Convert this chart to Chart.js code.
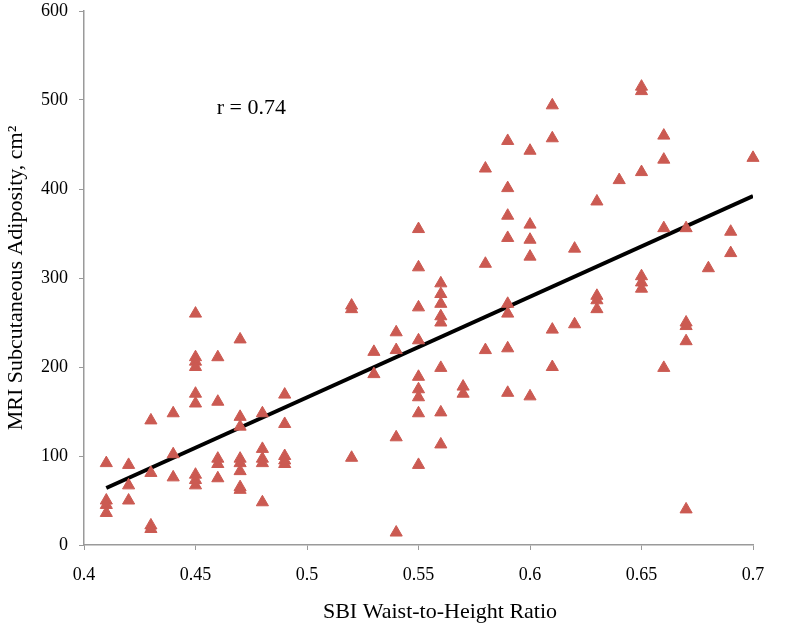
<!DOCTYPE html>
<html>
<head>
<meta charset="utf-8">
<script src="https://cdn.jsdelivr.net/npm/chart.js@4.4.0/dist/chart.umd.min.js"></script>
<style>
    html, body { margin: 0; padding: 0; background: #fff; }
    #wrap { width: 800px; height: 628px; }
</style>
</head>
<body>
<div id="wrap"><canvas id="scatterChart" width="800" height="628"></canvas></div>
<script>
// Waist-to-height ratio groups and the adiposity values read at each one
const ratioGroups = [0.41, 0.42, 0.43, 0.44, 0.45, 0.46, 0.47, 0.48, 0.49,
    0.52, 0.53, 0.54, 0.55, 0.56, 0.57, 0.58, 0.59, 0.60,
    0.61, 0.62, 0.63, 0.64, 0.65, 0.66, 0.67, 0.68, 0.69, 0.70];
const adiposityValues = [
    [92, 50, 45, 36],
    [90, 67, 50],
    [140, 81, 22, 18],
    [148, 102, 76],
    [260, 211, 206, 200, 170, 159, 79, 73, 67],
    [211, 161, 97, 91, 75],
    [231, 144, 133, 97, 92, 83, 65, 62],
    [148, 108, 97, 92, 48],
    [169, 136, 100, 95, 91],
    [269, 265, 98],
    [217, 192],
    [239, 219, 121, 14],
    [355, 312, 267, 230, 189, 175, 166, 148, 90],
    [294, 282, 271, 257, 250, 199, 149, 113],
    [178, 170],
    [423, 316, 219],
    [454, 401, 370, 345, 271, 260, 221, 171],
    [443, 360, 343, 324, 167],
    [494, 457, 242, 200],
    [333, 248],
    [386, 280, 275, 265],
    [410],
    [515, 510, 419, 302, 295, 288],
    [460, 433, 356, 199],
    [356, 250, 246, 229, 40],
    [311],
    [352, 328],
    [435]
];

// Fitted line
const trendX = [0.41, 0.70];
const trendY = [64, 392];

const xTicks = [0.4, 0.45, 0.5, 0.55, 0.6, 0.65, 0.7];
const yTicks = [0, 100, 200, 300, 400, 500, 600];

const rLabel = 'r = 0.74';
const xTitle = 'SBI Waist-to-Height Ratio';
const yTitle = 'MRI Subcutaneous Adiposity, cm²';

document.addEventListener('DOMContentLoaded', function() {
    'use strict';

    const points = [];
    ratioGroups.forEach((r, i) => {
        adiposityValues[i].forEach(v => points.push({ x: r, y: v }));
    });
    const trendPoints = trendX.map((x, i) => ({ x: x, y: trendY[i] }));

    const serif = "'Liberation Serif', 'DejaVu Serif', serif";
    const axisGray = '#9a9a9a';

    // correlation note and the two axis titles (Excel puts the x title a bit right of centre)
    const labels = {
        id: 'labels',
        afterDraw(chart) {
            const ctx = chart.ctx;
            const xs = chart.scales.x, ys = chart.scales.y;
            ctx.save();
            ctx.font = '22px ' + serif;
            ctx.fillStyle = '#000';
            ctx.textBaseline = 'middle';

            ctx.textAlign = 'left';
            ctx.fillText(rLabel, xs.getPixelForValue(0.4595), ys.getPixelForValue(491));

            ctx.textAlign = 'center';
            ctx.fillText(xTitle, 440, 612);

            ctx.translate(16, (chart.chartArea.top + chart.chartArea.bottom) / 2);
            ctx.rotate(-Math.PI / 2);
            ctx.fillText(yTitle, 0, 0);
            ctx.restore();
        }
    };

    new Chart(document.getElementById('scatterChart').getContext('2d'), {
        type: 'scatter',
        data: {
            datasets: [
                {
                    label: 'Subjects',
                    data: points,
                    pointStyle: 'triangle',
                    pointRadius: 7,
                    pointHoverRadius: 7,
                    backgroundColor: '#CB5A52',
                    borderColor: '#CB5A52',
                    borderWidth: 1,
                    clip: false
                },
                {
                    label: 'Fit',
                    type: 'line',
                    data: trendPoints,
                    borderColor: '#000',
                    borderWidth: 4,
                    pointRadius: 0,
                    fill: false
                }
            ]
        },
        options: {
            responsive: false,
            animation: false,
            layout: { padding: { top: 11, right: 47, left: 0, bottom: 0 } },
            plugins: {
                legend: { display: false },
                tooltip: { enabled: false }
            },
            scales: {
                x: {
                    type: 'linear',
                    min: 0.4,
                    max: 0.7,
                    afterBuildTicks: function(scale) {
                        scale.ticks = xTicks.map(v => ({ value: v }));
                    },
                    afterFit: function(scale) {
                        scale.height = 83;
                        scale.paddingLeft = 0;
                        scale.paddingRight = 0;
                    },
                    grid: {
                        drawOnChartArea: false,
                        color: axisGray,
                        tickLength: 5
                    },
                    border: { color: axisGray, width: 1.5 },
                    ticks: {
                        color: '#000',
                        font: { family: serif, size: 18 },
                        padding: 14,
                        maxRotation: 0,
                        callback: function(v) { return String(v); }
                    }
                },
                y: {
                    min: 0,
                    max: 600,
                    afterBuildTicks: function(scale) {
                        scale.ticks = yTicks.map(v => ({ value: v }));
                    },
                    afterFit: function(scale) {
                        scale.width = 84;
                        scale.paddingTop = 0;
                        scale.paddingBottom = 0;
                    },
                    grid: {
                        drawOnChartArea: false,
                        color: axisGray,
                        tickLength: 5
                    },
                    border: { color: axisGray, width: 1.5 },
                    ticks: {
                        color: '#000',
                        font: { family: serif, size: 18 },
                        padding: 11
                    }
                }
            }
        },
        plugins: [labels]
    });
});
</script>
</body>
</html>
